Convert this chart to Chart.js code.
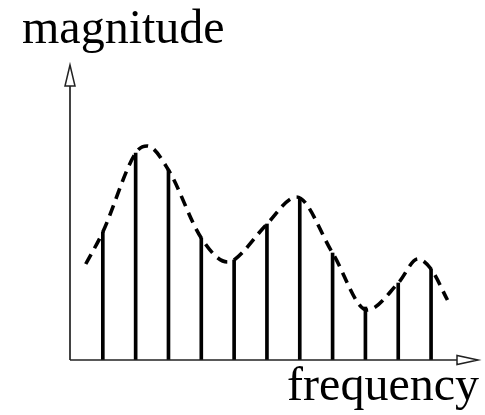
<!DOCTYPE html>
<html>
<head>
<meta charset="utf-8">
<script src="https://cdn.jsdelivr.net/npm/chart.js@4/dist/chart.umd.min.js"></script>
<style>
  html, body { margin: 0; padding: 0; background: #fff; }
  #wrap { width: 485px; height: 415px; }
</style>
</head>
<body>
<div id="wrap"><canvas id="spectrum"></canvas></div>
<script>
// sampled components (stems)
const stemFreqs = [1, 2, 3, 4, 5, 6, 7, 8, 9, 10, 11];
const stemMags = [128, 207, 190, 122, 100, 136, 162, 107, 53, 77, 91];

// dashed envelope
const envFreqs = [0.48, 1, 2, 2.35, 3, 4, 4.8, 5, 6, 6.9, 8, 9.05, 10, 10.6, 11, 11.5];
const envMags = [96, 128, 207, 214, 190, 122, 98, 100, 136, 163, 107, 50, 77, 101, 91, 60];

const xLabel = "frequency";
const yLabel = "magnitude";

const xMax = 12.43;
const yMax = 295;

const axesPlugin = {
  id: "arrowAxes",
  afterDraw(chart) {
    const { ctx, chartArea } = chart;
    const left = chartArea.left, bottom = chartArea.bottom;
    const top = chartArea.top, right = chartArea.right;
    ctx.save();
    ctx.strokeStyle = "#222";
    ctx.lineWidth = 1.7;
    // y axis
    ctx.beginPath();
    ctx.moveTo(left, bottom);
    ctx.lineTo(left, top + 20);
    ctx.stroke();
    // x axis
    ctx.beginPath();
    ctx.moveTo(left, bottom);
    ctx.lineTo(right - 20, bottom);
    ctx.stroke();
    // open arrow heads
    ctx.fillStyle = "#fff";
    ctx.lineWidth = 1.5;
    ctx.beginPath();
    ctx.moveTo(left, top);
    ctx.lineTo(left - 5, top + 21);
    ctx.lineTo(left + 5, top + 21);
    ctx.closePath();
    ctx.fill();
    ctx.stroke();
    ctx.beginPath();
    ctx.moveTo(right, bottom);
    ctx.lineTo(right - 21, bottom - 4.5);
    ctx.lineTo(right - 21, bottom + 4.5);
    ctx.closePath();
    ctx.fill();
    ctx.stroke();
    // labels
    ctx.fillStyle = "#000";
    ctx.font = '48px "Liberation Serif", "Times New Roman", serif';
    ctx.textBaseline = "alphabetic";
    ctx.textAlign = "left";
    ctx.fillText(yLabel, 22, 43);
    ctx.textAlign = "right";
    ctx.fillText(xLabel, 479, 400);
    ctx.restore();
  }
};

new Chart(document.getElementById("spectrum"), {
  data: {
    datasets: [
      {
        type: "line",
        data: envFreqs.map((f, i) => ({ x: f, y: envMags[i] })),
        borderColor: "#000",
        borderWidth: 3.6,
        borderDash: [11, 7],
        pointRadius: 0,
        cubicInterpolationMode: "monotone",
        fill: false
      },
      {
        type: "bar",
        data: stemFreqs.map((f, i) => ({ x: f, y: stemMags[i] })),
        backgroundColor: "#000",
        barThickness: 3
      }
    ]
  },
  options: {
    responsive: true,
    maintainAspectRatio: false,
    animation: false,
    layout: { padding: { left: 70, top: 65, right: 7, bottom: 55 } },
    plugins: { legend: { display: false }, tooltip: { enabled: false } },
    scales: {
      x: { type: "linear", min: 0, max: xMax, display: false, offset: false },
      y: { min: 0, max: yMax, display: false }
    }
  },
  plugins: [axesPlugin]
});
</script>
</body>
</html>
